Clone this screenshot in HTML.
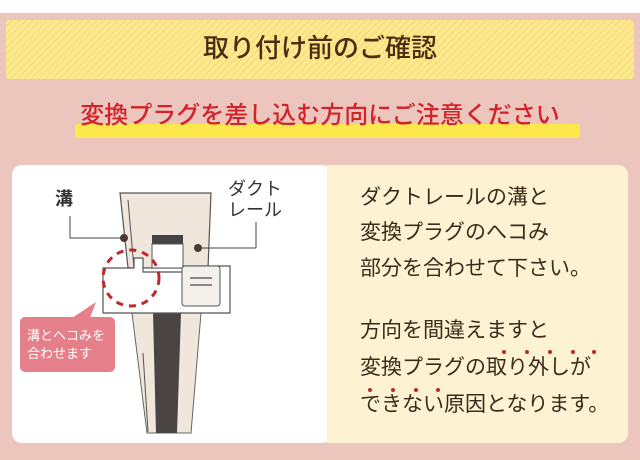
<!DOCTYPE html>
<html><head><meta charset="utf-8"><style>
*{margin:0;padding:0;box-sizing:border-box}
body{width:640px;height:460px;background:#fff;position:relative;overflow:hidden;font-family:"Liberation Sans","Noto Sans CJK JP",sans-serif}
.bg{position:absolute;left:0;top:13px;width:640px;height:447px;background:#ecc6bd}
.hd{position:absolute;left:6px;top:20px;width:628px;height:59px;border-radius:3px;background:repeating-linear-gradient(135deg,#fde88c 0 4px,#f3d77e 4px 5px);}
.hd span{position:absolute;left:0;right:0;top:13px;text-align:center;font-size:26px;color:#4a2e14;font-weight:500;line-height:1.2}
.sub{position:absolute;left:0;right:0;top:102px;text-align:center;font-size:24px;color:#d2232a;font-weight:500;line-height:1.2}
.ul{position:absolute;left:75px;top:124px;width:505px;height:14px;background:#fde84c;border-radius:3px}
.lp{position:absolute;left:12px;top:165px;width:320px;height:278px;background:#fff;border-radius:10px}
.rp{position:absolute;left:327px;top:165px;width:301px;height:278px;background:#fdf3d3;border-radius:0 10px 10px 0}
.t{position:absolute;left:360px;font-size:21px;color:#3d2a1a;line-height:1}
.dot{position:absolute;width:4px;height:4px;border-radius:50%;background:#c0262c}
</style></head><body>
<div class="bg"></div>
<div class="hd"><span>取り付け前のご確認</span></div>
<div class="ul"></div>
<div class="sub">変換プラグを差し込む方向にご注意ください</div>
<div class="lp"></div>
<div class="rp"></div>
<svg style="position:absolute;left:0;top:0" width="640" height="460">
<polygon points="120,193 211,193 208,268 128,268" fill="#efe6dc" stroke="#555" stroke-width="1.2"/>
<line x1="128" y1="200" x2="134" y2="268" stroke="#555" stroke-width="1"/>
<rect x="152" y="235" width="31" height="13" fill="#444"/>
<rect x="152" y="244" width="31" height="24" fill="#fff" stroke="#555"/>
<polygon points="132,313 201,313 191,433 147,433" fill="#efe6dc" stroke="#666"/>
<polygon points="153,313 181,313 177,433 156,433" fill="#4a4444"/>
<line x1="143" y1="353" x2="148" y2="432" stroke="#555"/>
<polygon points="103,268 134,268 134,258 143,258 143,272 183,272 183,266 230,266 230,313 103,313" fill="#fff" stroke="#555" stroke-width="1.2"/>
<rect x="182" y="266" width="38" height="40" rx="3" fill="#f4f0ec" stroke="#555"/>
<line x1="190" y1="278" x2="212" y2="278" stroke="#666" stroke-width="1.5"/>
<line x1="190" y1="285" x2="212" y2="285" stroke="#666" stroke-width="1.5"/>
<line x1="70" y1="216" x2="70" y2="238" stroke="#444"/><line x1="70" y1="238" x2="124" y2="238" stroke="#444"/>
<circle cx="124" cy="238" r="4" fill="#4a3a30"/>
<circle cx="198" cy="248" r="4" fill="#4a3a30"/>
<line x1="198" y1="248" x2="256" y2="248" stroke="#444"/><line x1="256" y1="248" x2="256" y2="222" stroke="#444"/>
<circle cx="131" cy="278" r="28" fill="none" stroke="#c0262c" stroke-width="3" stroke-dasharray="7,6"/>
<rect x="20" y="317" width="95" height="55" rx="5" fill="#e5808b"/>
<polygon points="72,318 90,318 96,302" fill="#e5808b"/>
<text x="55" y="205" font-size="18" font-weight="bold" fill="#333" font-family="Liberation Sans,Noto Sans CJK JP,sans-serif">溝</text>
<text x="228" y="195" font-size="18" fill="#333" font-family="Liberation Sans,Noto Sans CJK JP,sans-serif">ダクト</text>
<text x="228" y="216" font-size="18" fill="#333" font-family="Liberation Sans,Noto Sans CJK JP,sans-serif">レール</text>
<text x="27" y="340" font-size="13" fill="#fff" font-family="Liberation Sans,Noto Sans CJK JP,sans-serif">溝とヘコみを</text>
<text x="27" y="358" font-size="13" fill="#fff" font-family="Liberation Sans,Noto Sans CJK JP,sans-serif">合わせます</text>
</svg>
<div class="t" style="top:187px">ダクトレールの溝と</div>
<div class="t" style="top:222px">変換プラグのへコみ</div>
<div class="t" style="top:258px">部分を合わせて下さい。</div>
<div class="t" style="top:320px">方向を間違えますと</div>
<div class="t" style="top:357px">変換プラグの取り外しが</div>
<div class="t" style="top:394px">できない原因となります。</div>
<div class="dot" style="left:502px;top:350px"></div><div class="dot" style="left:525px;top:350px"></div><div class="dot" style="left:548px;top:350px"></div><div class="dot" style="left:571px;top:350px"></div><div class="dot" style="left:592px;top:350px"></div>
<div class="dot" style="left:368px;top:388px"></div><div class="dot" style="left:391px;top:388px"></div><div class="dot" style="left:414px;top:388px"></div><div class="dot" style="left:436px;top:388px"></div>
</body></html>
